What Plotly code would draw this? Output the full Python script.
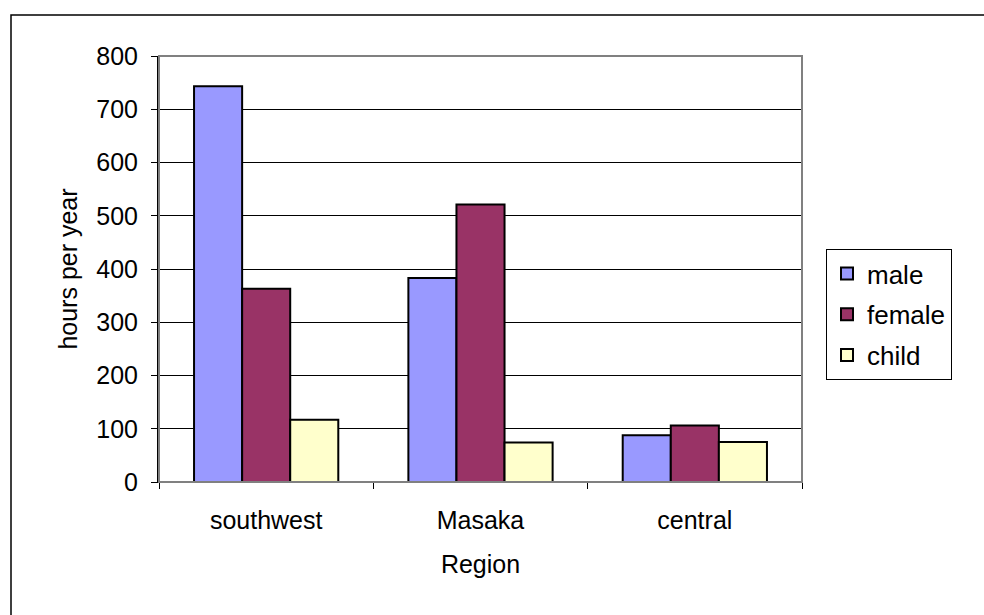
import plotly.graph_objects as go

# Hours per year spent, by region and household member
regions = ["southwest", "Masaka", "central"]
male = [743, 383, 88]
female = [363, 521, 106]
child = [117, 74, 75]

series = [
    ("male", male, "#9999FF"),
    ("female", female, "#993366"),
    ("child", child, "#FFFFCC"),
]

FONT = "Liberation Sans, Arial, sans-serif"

fig = go.Figure()
for name, vals, color in series:
    fig.add_trace(go.Bar(
        x=regions, y=vals, name=name, legendgroup=name,
        marker=dict(color=color, line=dict(color="black", width=2)),
    ))

W, H = 984, 615
L, R, T, B = 159, 182, 56, 133
pw, ph = W - L - R, H - T - B

fig.update_layout(
    width=W, height=H,
    margin=dict(l=L, r=R, t=T, b=B),
    paper_bgcolor="white", plot_bgcolor="white",
    font=dict(family=FONT, size=25, color="black"),
    barmode="group", bargap=0.327, bargroupgap=0,
    showlegend=True,
    legend=dict(
        x=(826 - L) / pw, y=(H - B - 249) / ph,
        xanchor="left", yanchor="top",
        bordercolor="black", borderwidth=1, bgcolor="white",
        font=dict(family=FONT, size=26),
        tracegroupgap=4, itemwidth=30,
    ),
    xaxis=dict(
        type="category",
        showline=True, linecolor="black", linewidth=1,
        ticks="outside", tickson="boundaries", ticklen=6, tickcolor="black",
        tickfont=dict(size=25), ticklabelstandoff=16,
        title=dict(text="Region", font=dict(size=25), standoff=22),
        showgrid=False,
    ),
    yaxis=dict(
        range=[0, 800], dtick=100,
        showline=True, linecolor="black", linewidth=2,
        ticks="outside", ticklen=6, tickcolor="black",
        tickfont=dict(size=25), ticklabelstandoff=8,
        showgrid=True, gridcolor="black", gridwidth=1,
        zeroline=False,
        title=dict(text="hours per year", font=dict(size=25), standoff=12),
    ),
    shapes=[
        # plot area frame
        dict(type="rect", xref="paper", yref="paper", x0=0, x1=1, y0=0, y1=1,
             line=dict(color="#808080", width=2), layer="above"),
        # outer chart border
        dict(type="rect", xref="paper", yref="paper",
             x0=(11 - L) / pw, x1=(W + 20 - L) / pw,
             y0=(H - B - (H + 20)) / ph, y1=(H - B - 15) / ph,
             line=dict(color="black", width=1.5), layer="below"),
    ],
)

fig.write_html("out.html")
